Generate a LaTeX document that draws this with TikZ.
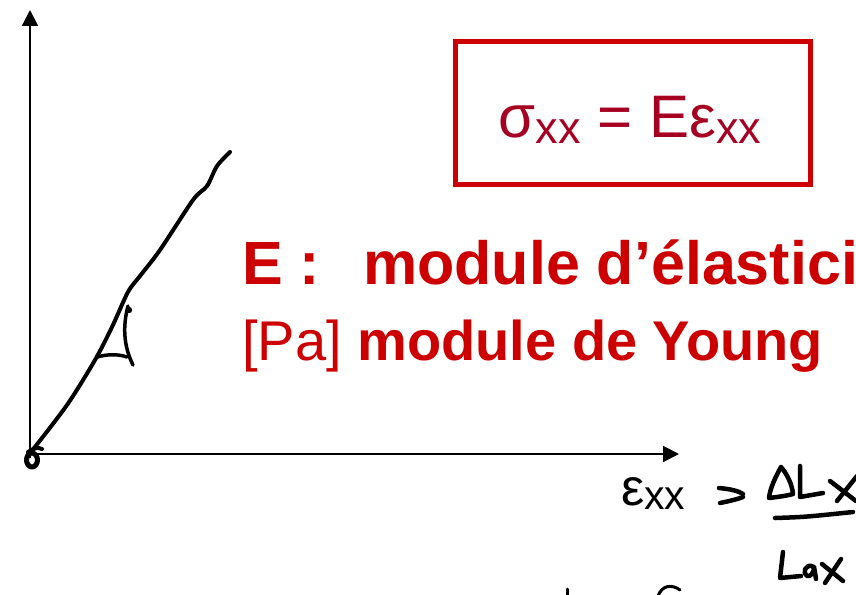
\documentclass[tikz,border=0pt]{standalone}
\usepackage{fontspec}
\setmainfont{Liberation Sans}
\usetikzlibrary{positioning, arrows.meta}
\definecolor{slidered}{RGB}{204,0,0}
\definecolor{lawred}{RGB}{165,0,33}
% lowered index: size, drop, text
\newcommand{\lowsub}[3]{\raisebox{-#2}{\fontsize{#1}{#1}\selectfont #3}}

\begin{document}
\begin{tikzpicture}[
    x=1pt, y=-1pt,
    axis/.style={line width=2pt, -{Triangle[length=16pt, width=16pt]}},
    ink/.style={line width=4pt, line cap=round, line join=round},
    pen/.style={line width=4.5pt, line cap=round, line join=round},
    slide/.style={inner sep=0pt, text=slidered, anchor=base west},
    lawbox/.style={draw=slidered, line width=5pt, minimum width=355pt, minimum height=142.5pt, inner sep=0pt},
  ]
  \useasboundingbox (0,0) rectangle (856,594);
  \clip (0,0) rectangle (856,594);

  % Axes
  \coordinate (origin) at (30,454);
  \coordinate (ybase) at (30,458);
  \coordinate (ytop) at (30,10);
  \coordinate (xend) at (679,454);
  \draw[axis] (ybase) -- (ytop);
  \draw[axis] (origin) -- (xend);

  % Stress-strain line (hand drawn)
  \draw[ink] plot[smooth, tension=0.5] coordinates {(31,452) (67,405) (95,360) (112,327) (128,292) (140,276) (160,250) (193,200) (207,186) (217,166) (230,152)};
  \draw[pen, line width=5pt] (32,460) ellipse [x radius=5.5, y radius=7];
  \draw[ink, line width=4pt] (28,452) .. controls (34,448) and (38,447) .. (42,449);

  % Slope triangle
  \draw[ink, line width=3.5pt] (128,306) .. controls (123,325) and (123,345) .. (133,365);
  \draw[ink, line width=3.5pt] (97,357) .. controls (108,354) and (118,354) .. (127,357);
  \fill (129,310) circle (3.2);

  % Hooke's law
  \node[lawbox] (law) at (633,113.25) {};
  \node[anchor=base, inner sep=0pt, text=lawred, font=\fontsize{60}{64}\selectfont] (hooke) at (630,137)
    {σ\lowsub{45}{6pt}{xx} = Eε\lowsub{45}{6pt}{xx}};

  % Young's modulus
  \node[slide, font=\bfseries\fontsize{61}{66}\selectfont] (emod) at (242,284) {E :\hspace{43pt}module d’élasticité};
  \node[slide, font=\fontsize{56}{60}\selectfont] (young) at (242,360) {[Pa] \textbf{module de Young}};

  % Strain
  \node[anchor=base west, inner sep=0pt, font=\fontsize{52}{56}\selectfont] (strain) at (621,505) {ε\lowsub{41}{4pt}{xx}};
  \draw[pen] (719,488) .. controls (730,489) and (739,491) .. (743,494);
  \draw[pen] (720,503) .. controls (730,501) and (738,499) .. (743,497);
  % Delta L_x
  \draw[pen] (781,467) .. controls (776,476) and (770,488) .. (769,498) .. controls (777,497) and (786,496) .. (793,494) .. controls (792,484) and (787,474) .. (781,467);
  \draw[pen] (800,466) -- (800,497) -- (823,493);
  \draw[pen] (830,481) -- (856,501);
  \draw[pen] (857,476) -- (837,501);
  \draw[pen] (775,518) .. controls (805,517) .. (853,512);
  % L_0x
  \draw[pen] (783,552) -- (780,578) -- (801,576);
  \draw[pen] (814,567) .. controls (805,562) and (802,574) .. (807,576) .. controls (811,577) and (814,572) .. (814,567) -- (816,579);
  \draw[pen] (822,564) -- (843,581);
  \draw[pen] (841,559) -- (825,583);

  % Partial handwriting at the bottom
  \draw[ink, line width=3pt] (567,589) -- (567,596);
  \draw[ink, line width=3pt] (680,590) .. controls (672,584) and (662,585) .. (658,596);
\end{tikzpicture}
\end{document}
